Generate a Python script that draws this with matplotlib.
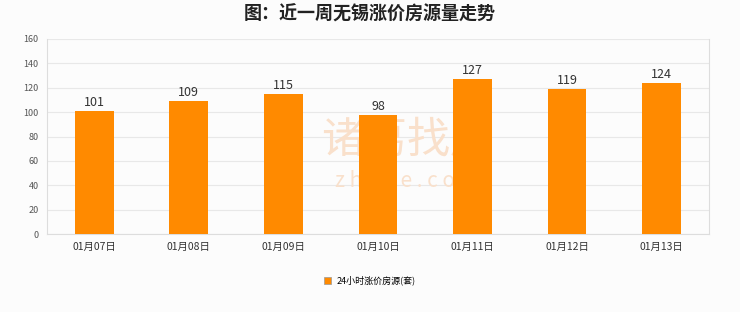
import matplotlib
matplotlib.use("Agg")
import matplotlib.pyplot as plt
from matplotlib.patches import Patch

plt.rcParams['font.family'] = ['Noto Sans CJK SC', 'DejaVu Sans']

categories = ["01月07日", "01月08日", "01月09日", "01月10日", "01月11日", "01月12日", "01月13日"]
values = [101, 109, 115, 98, 127, 119, 124]
yticks = [0, 20, 40, 60, 80, 100, 120, 140, 160]
series_name = "24小时涨价房源(套)"
title = "图：近一周无锡涨价房源量走势"

bg = "#fcfcfc"
fig = plt.figure(figsize=(7.4, 3.12), dpi=100, facecolor=bg)
ax = fig.add_axes([0.0635, 0.25, 0.8945, 0.625])
ax.set_facecolor(bg)

# watermark (behind bars)
ax.text(0.55, 0.55, "诸葛找房", fontsize=31, color="#f9e0cb", ha="center", va="center",
        transform=fig.transFigure, zorder=1)
ax.text(0.55, 0.42, "z h u g e . c o m", fontsize=15, color="#f9e0cb", ha="center", va="center",
        transform=fig.transFigure, zorder=1)

x = range(len(categories))
ax.bar(x, values, width=0.41, color="#ff8a00", zorder=3)
for xi, v in zip(x, values):
    ax.text(xi, v + 1.5, str(v), ha="center", va="bottom", fontsize=9, color="#333333", zorder=4)

ax.set_xlim(-0.5, len(categories) - 0.5)
ax.set_ylim(0, 160)
ax.set_yticks(yticks)
ax.set_yticklabels([str(t) for t in yticks], fontsize=6.5, color="#555555")
ax.set_xticks(list(x))
ax.set_xticklabels(categories, fontsize=7.5, color="#333333")
ax.tick_params(axis="both", length=0, pad=6)
ax.grid(axis="y", color="#e8e8e8", linewidth=0.8, zorder=0)
ax.set_axisbelow(True)
for s in ax.spines.values():
    s.set_color("#dddddd")
    s.set_linewidth(0.8)
ax.spines["top"].set_visible(False)

fig.text(0.5, 0.955, title, ha="center", va="center", fontsize=13, fontweight="bold", color="#222222")

handle = Patch(facecolor="#ff8a00", edgecolor="#999999", linewidth=0.5)
fig.legend([handle], [series_name], loc="center", bbox_to_anchor=(0.5, 0.1), frameon=False,
           fontsize=6.5, handlelength=0.8, handleheight=0.8, handletextpad=0.6)

fig.savefig("out.png", dpi=100, facecolor=bg)
